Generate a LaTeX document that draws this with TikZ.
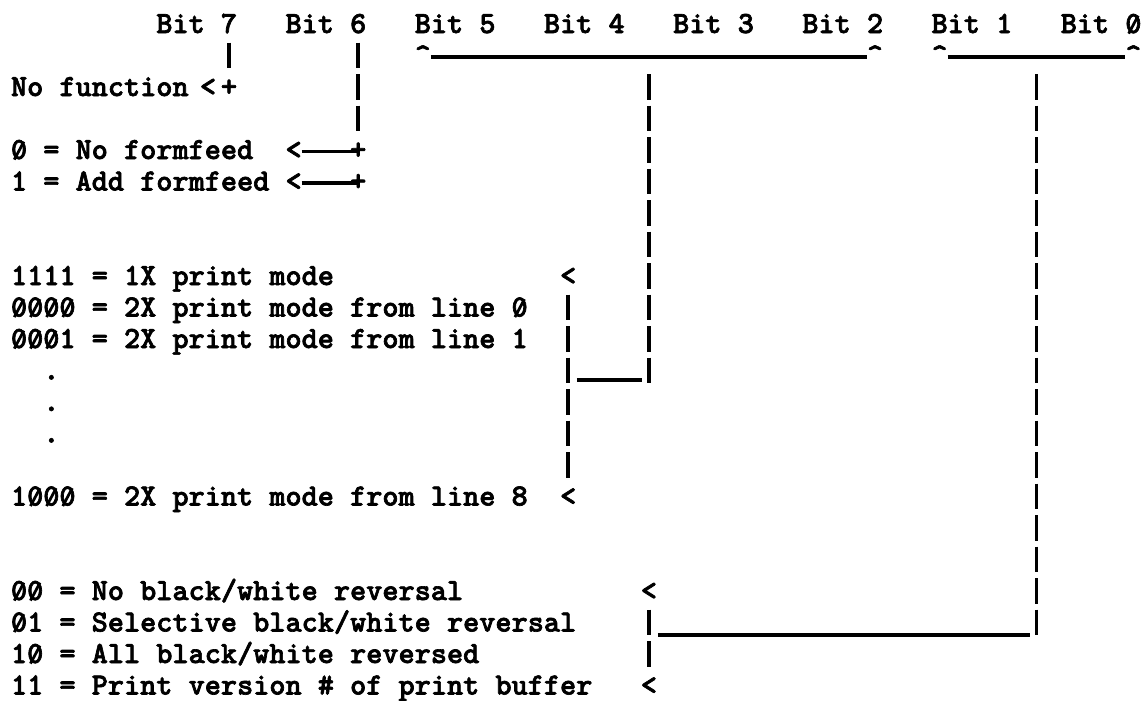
\documentclass[tikz,border=0pt]{standalone}
\usepackage{graphicx}
\usepackage{fontspec}
\newfontfamily\tw{lmmonolt10-bold}[Extension=.otf, FakeBold=2.2]
\newcommand\zs{{\ooalign{0\cr\hidewidth\raisebox{-0.04em}{\rotatebox{62}{\rule{0.66em}{0.09em}}}\hidewidth\cr}}}
\begin{document}
\begin{tikzpicture}[x=12.1125pt, y=-23.625pt,
  txt/.style={font=\fontsize{23.07pt}{27pt}\selectfont\tw, inner sep=0pt, outer sep=0pt, anchor=base west},
  vbar/.style={line width=2.6pt, dash pattern=on 19.125pt off 4.5pt, shorten <=7.125pt, shorten >=21pt},
  hbar/.style={line width=2.6pt}]
\useasboundingbox (-0.6811,-1.0476) rectangle (70.217,21.206);
% header
\node[txt] (b7) at (9,0) {Bit 7};
\node[txt] (b6) at (17,0) {Bit 6};
\node[txt] (b5) at (25,0) {Bit 5};
\node[txt] (b4) at (33,0) {Bit 4};
\node[txt] (b3) at (41,0) {Bit 3};
\node[txt] (b2) at (49,0) {Bit 2};
\node[txt] (b1) at (57,0) {Bit 1};
\node[txt] (b0) at (65,0) {Bit \zs};
\node[txt] (c5) at (25,1) {\textasciicircum};
\node[txt] (c2) at (53,1) {\textasciicircum};
\node[txt] (c1) at (57,1) {\textasciicircum};
\node[txt] (c0) at (69,1) {\textasciicircum};
% bit 7 and bit 6
\node[txt] (nf) at (0,2) {No function};
\node[txt] (lt7) at (11.7,2) {<};
\node[txt] (p7) at (13,2) {+};
\node[txt] (ff0) at (0,4) {\zs{} = No formfeed};
\node[txt] (lt60) at (17,4) {<};
\node[txt] (p60) at (21,4) {+};
\node[txt] (ff1) at (0,5) {1 = Add formfeed};
\node[txt] (lt61) at (17,5) {<};
\node[txt] (p61) at (21,5) {+};
% bits 5-2
\node[txt] (m1) at (0,8) {1111 = 1X print mode};
\node[txt] (ltA) at (34,8) {<};
\node[txt] (m2) at (0,9) {\zs\zs\zs\zs{} = 2X print mode from line \zs};
\node[txt] (m3) at (0,10) {\zs\zs\zs1 = 2X print mode from line 1};
\node[txt] (d1) at (2,11) {.};
\node[txt] (d2) at (2,12) {.};
\node[txt] (d3) at (2,13) {.};
\node[txt] (m4) at (0,15) {1\zs\zs\zs{} = 2X print mode from line 8};
\node[txt] (ltB) at (34,15) {<};
% bits 1-0
\node[txt] (r1) at (0,18) {\zs\zs{} = No black/white reversal};
\node[txt] (ltC) at (39,18) {<};
\node[txt] (r2) at (0,19) {\zs1 = Selective black/white reversal};
\node[txt] (r3) at (0,20) {1\zs{} = All black/white reversed};
\node[txt] (r4) at (0,21) {11 = Print version \# of print buffer};
\node[txt] (ltD) at (39,21) {<};
% junction coordinates
\coordinate (j54) at (39.5,1);
\coordinate (e54) at (39.5,12);
\coordinate (j10) at (63.5,1);
\coordinate (e10) at (63.5,20);
\coordinate (k11) at (34.5,11);
\coordinate (k19) at (39.5,19);
% connectors
\draw[vbar] (p7 |- b7.base) -- (p7.base);
\draw[vbar] (p60 |- b6.base) -- (p60.base);
\draw[hbar] ([yshift=5.6pt]lt60.base east) -- ([yshift=5.6pt]p60.base);
\draw[hbar] ([yshift=5.6pt]lt61.base east) -- ([yshift=5.6pt]p61.base);
\draw[hbar] ([yshift=5.625pt]c5.base east) -- ([yshift=5.625pt]c2.base west);
\draw[hbar] ([yshift=5.625pt]c1.base east) -- ([yshift=5.625pt]c0.base west);
\draw[vbar] (j54) -- (e54);
\draw[vbar] (j10) -- (e10);
\draw[vbar] (ltA.base) -- (ltB.base);
\draw[vbar] (ltC.base) -- (ltD.base);
\draw[hbar, shorten <=6.6pt, shorten >=5.25pt] ([yshift=-0.4pt]k11) -- ([yshift=-0.4pt]j54 |- k11);
\draw[hbar, shorten <=6.75pt, shorten >=4.9pt] ([yshift=-2.625pt]k19) -- ([yshift=-2.625pt]j10 |- k19);
\end{tikzpicture}
\end{document}
